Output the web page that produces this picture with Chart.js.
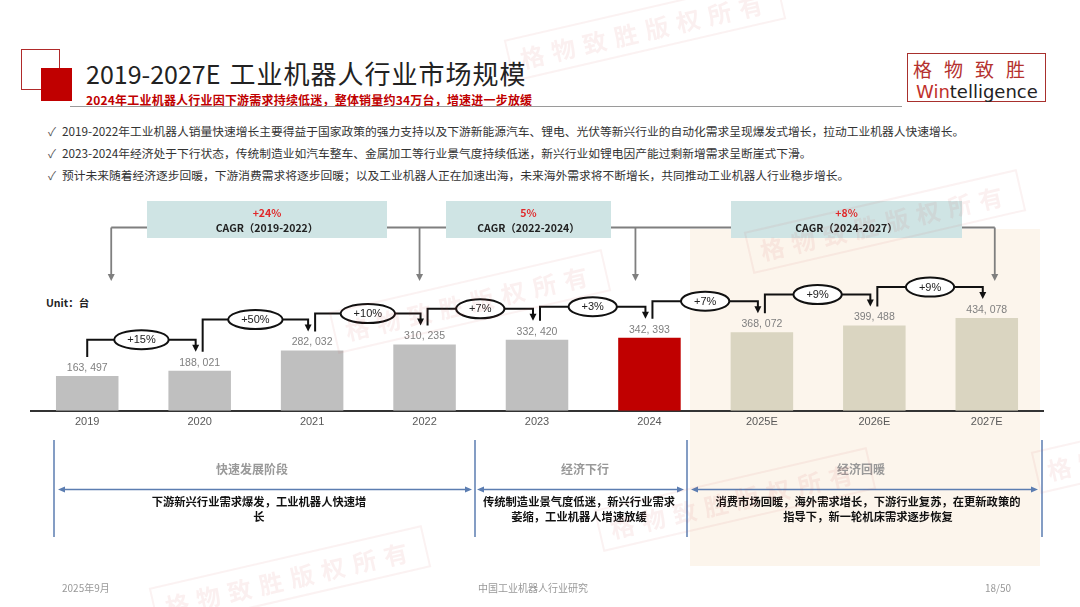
<!DOCTYPE html>
<html>
<head>
<meta charset="utf-8">
<script src="https://cdn.jsdelivr.net/npm/chart.js@4.4.1/dist/chart.umd.min.js"></script>
<style>
  body { margin: 0; width: 1080px; height: 607px; overflow: hidden; background: #fff; position: relative;
         font-family: "Noto Sans CJK SC", "Noto Sans", sans-serif; }
  .abs { position: absolute; white-space: nowrap; }
  .title { left: 86px; top: 60px; font-size: 25px; line-height: 26px; color: #222; }
  .title .cn { font-size: 26px; letter-spacing: 1px; margin-left: 9px; }
  .sub { left: 86px; top: 92px; font-size: 12px; line-height: 15px; color: #c00000; font-weight: bold; letter-spacing: 0.2px; }
  .bul { left: 48px; font-size: 11.75px; line-height: 16px; color: #333; }
  .bul span { display: inline-block; width: 14px; color: #555; }
  .phase-t { font-size: 12px; line-height: 16px; color: #999; font-weight: bold; text-align: center; }
  .phase-d { font-size: 11.3px; line-height: 15px; color: #111; font-weight: bold; text-align: center; }
  .foot { top: 581px; font-size: 10px; line-height: 14px; color: #999; }
  .wm { position: absolute; border: 2px solid rgba(200, 70, 70, 0.07); color: rgba(200, 70, 70, 0.08);
        font-size: 24px; font-weight: bold; letter-spacing: 8px; padding: 2px 10px; transform: rotate(-13deg);
        white-space: nowrap; z-index: 5; }
</style>
</head>
<body>
<div id="peach" class="abs" style="left:690px; top:229px; width:350px; height:337px; background:#fcf5ec;"></div>

<!-- header -->
<div class="abs" style="left:21px; top:49px; width:37px; height:39px; border:1.5px solid #b02a2a;"></div>
<div class="abs" style="left:41px; top:68px; width:31px; height:33px; background:#c00000;"></div>
<div class="abs title">2019-2027E<span class="cn">工业机器人行业市场规模</span></div>
<div class="abs sub">2024年工业机器人行业因下游需求持续低迷，整体销量约34万台，增速进一步放缓</div>
<div class="abs" style="left:70px; top:106px; width:832px; height:1px; background:#9a9a9a;"></div>

<div class="abs" style="left:907px; top:53px; width:139px; height:49px; box-sizing:border-box; border:1.5px solid #a8302d;"></div>
<div class="abs" style="left:913px; top:56px; font-size:19px; line-height:26px; color:#b5322f; letter-spacing:12px;">格物致胜</div>
<div class="abs" style="left:916px; top:81px; font-family:'DejaVu Sans'; font-size:18px; line-height:22px; color:#222;"><span style="color:#c0302b">Win</span>telligence</div>

<div class="abs bul" style="top:123px;"><span>✓</span>2019-2022年工业机器人销量快速增长主要得益于国家政策的强力支持以及下游新能源汽车、锂电、光伏等新兴行业的自动化需求呈现爆发式增长，拉动工业机器人快速增长。</div>
<div class="abs bul" style="top:145px;"><span>✓</span>2023-2024年经济处于下行状态，传统制造业如汽车整车、金属加工等行业景气度持续低迷，新兴行业如锂电因产能过剩新增需求呈断崖式下滑。</div>
<div class="abs bul" style="top:167px;"><span>✓</span>预计未来随着经济逐步回暖，下游消费需求将逐步回暖；以及工业机器人正在加速出海，未来海外需求将不断增长，共同推动工业机器人行业稳步增长。</div>

<div class="abs" style="left:46px; top:295px; font-size:10.5px; line-height:16px; font-weight:bold; color:#222;">Unit：台</div>

<!-- chart -->
<div class="abs" style="left:0; top:185px; width:1080px; height:260px;">
  <canvas id="c" width="1080" height="260"></canvas>
</div>

<!-- phases -->
<svg class="abs" style="left:0; top:0;" width="1080" height="607">
  <g stroke="#5b7db1" stroke-width="1.5" fill="none">
    <line x1="54" y1="440" x2="54" y2="537"/>
    <line x1="475" y1="440" x2="475" y2="537"/>
    <line x1="687" y1="440" x2="687" y2="537"/>
    <line x1="1042" y1="440" x2="1042" y2="537"/>
    <line x1="62" y1="489.5" x2="468" y2="489.5"/>
    <line x1="480" y1="489.5" x2="681" y2="489.5"/>
    <line x1="694" y1="489.5" x2="1035" y2="489.5"/>
  </g>
  <g fill="#5b7db1">
    <polygon points="58,489.5 65,486.5 65,492.5"/>
    <polygon points="472,489.5 465,486.5 465,492.5"/>
    <polygon points="477,489.5 484,486.5 484,492.5"/>
    <polygon points="684,489.5 677,486.5 677,492.5"/>
    <polygon points="691,489.5 698,486.5 698,492.5"/>
    <polygon points="1038,489.5 1031,486.5 1031,492.5"/>
  </g>
</svg>
<div class="abs phase-t" style="left:152px; width:200px; top:461px;">快速发展阶段</div>
<div class="abs phase-t" style="left:485px; width:200px; top:461px;">经济下行</div>
<div class="abs phase-t" style="left:761px; width:200px; top:461px;">经济回暖</div>
<div class="abs phase-d" style="left:129px; width:260px; top:494px;">下游新兴行业需求爆发，工业机器人快速增<br>长</div>
<div class="abs phase-d" style="left:459px; width:240px; top:494px;">传统制造业景气度低迷，新兴行业需求<br>萎缩，工业机器人增速放缓</div>
<div class="abs phase-d" style="left:698px; width:340px; top:494px;">消费市场回暖，海外需求增长，下游行业复苏，在更新政策的<br>指导下，新一轮机床需求逐步恢复</div>

<div class="abs foot" style="left:62px;">2025年9月</div>
<div class="abs foot" style="left:478px;">中国工业机器人行业研究</div>
<div class="abs foot" style="left:985px;">18/50</div>

<!-- watermarks -->
<div class="wm" style="left:505px; top:8px;">格物致胜版权所有</div>
<div class="wm" style="left:330px; top:280px;">格物致胜版权所有</div>
<div class="wm" style="left:745px; top:200px;">格物致胜版权所有</div>
<div class="wm" style="left:595px; top:478px;">格物致胜版权所有</div>
<div class="wm" style="left:150px; top:556px;">格物致胜版权所有</div>
<div class="wm" style="left:1032px; top:420px;">格物致胜版权所有</div>

<script>
const years = ['2019', '2020', '2021', '2022', '2023', '2024', '2025E', '2026E', '2027E'];
const sales = [163497, 188021, 282032, 310235, 332420, 342393, 368072, 399488, 434078];
const growthLabels = ['+15%', '+50%', '+10%', '+7%', '+3%', '+7%', '+9%', '+9%'];
const cagrValues = ['+24%', '5%', '+8%'];
const cagrPeriods = ['CAGR（2019-2022）', 'CAGR（2022-2024）', 'CAGR（2024-2027）'];

// canvas top sits at page y=185
const TOP = 185;
const cagrBoxes = [{ l: 147, r: 387 }, { l: 446, r: 611 }, { l: 731, r: 962 }];

function fmt(v) {
    return v.toLocaleString('en-US').replace(',', ', ');
}

function arrowDown(ctx, x, tipY, w, h) {
    ctx.beginPath();
    ctx.moveTo(x - w / 2, tipY - h);
    ctx.lineTo(x + w / 2, tipY - h);
    ctx.lineTo(x, tipY);
    ctx.closePath();
    ctx.fill();
}

const annotations = {
    id: 'annotations',
    afterDatasetsDraw(chart) {
        const { ctx, scales: { x, y } } = chart;
        const meta = chart.getDatasetMeta(0);
        ctx.save();

        // value labels
        ctx.font = '10.5px "Liberation Sans"';
        ctx.fillStyle = '#7f7f7f';
        ctx.textAlign = 'center';
        ctx.textBaseline = 'middle';
        meta.data.forEach((bar, i) => ctx.fillText(fmt(sales[i]), bar.x, bar.y - 8));

        // year-on-year connectors
        growthLabels.forEach((g, i) => {
            const x0 = x.getPixelForValue(i) + (i === 0 ? 0 : 3);
            const x1 = x.getPixelForValue(i + 1) - 4;
            const t0 = y.getPixelForValue(sales[i]) - 19;
            const t1 = y.getPixelForValue(sales[i + 1]) - 19;
            const h = Math.min(t0, t1) - 12;
            ctx.strokeStyle = '#111';
            ctx.fillStyle = '#111';
            ctx.lineWidth = 2;
            ctx.beginPath();
            ctx.moveTo(x0, t0);
            ctx.lineTo(x0, h);
            ctx.lineTo(x1, h);
            ctx.lineTo(x1, t1 - 5);
            ctx.stroke();
            arrowDown(ctx, x1, t1, 7, 7);

            ctx.font = '11px "Liberation Sans"';
            const tw = ctx.measureText(g).width;
            const cx = (x0 + x1) / 2;
            ctx.beginPath();
            ctx.ellipse(cx, h, tw / 2 + 13, 9.5, 0, 0, Math.PI * 2);
            ctx.fillStyle = '#fff';
            ctx.fill();
            ctx.stroke();
            ctx.fillStyle = '#222';
            ctx.fillText(g, cx, h + 0.5);
        });

        // CAGR boxes and their pointers
        const lineY = 227.5 - TOP;
        const tipY = 281 - TOP;
        const drops = [
            { from: 147, to: x.getPixelForValue(0) + 24 },
            { from: 387, to: 446, at: x.getPixelForValue(3) - 5 },
            { from: 611, to: 731, at: x.getPixelForValue(5) - 14 },
            { from: 962, to: x.getPixelForValue(8) + 8 }
        ];
        ctx.strokeStyle = '#7f7f7f';
        ctx.fillStyle = '#7f7f7f';
        ctx.lineWidth = 1.8;
        drops.forEach(d => {
            const dx = d.at !== undefined ? d.at : d.to;
            ctx.beginPath();
            ctx.moveTo(d.from, lineY);
            ctx.lineTo(d.to, lineY);
            ctx.moveTo(dx, lineY);
            ctx.lineTo(dx, tipY - 6);
            ctx.stroke();
            arrowDown(ctx, dx, tipY, 7, 7);
        });

        cagrBoxes.forEach((b, i) => {
            ctx.fillStyle = '#cfe4e4';
            ctx.fillRect(b.l, 201 - TOP, b.r - b.l, 37);
            const cx = (b.l + b.r) / 2;
            ctx.font = 'bold 10.5px "Noto Sans CJK SC"';
            ctx.fillStyle = '#e0282a';
            ctx.fillText(cagrValues[i], cx, 213.5 - TOP);
            ctx.fillStyle = '#222';
            ctx.fillText(cagrPeriods[i], cx, 228 - TOP);
        });

        ctx.restore();
    }
};

new Chart(document.getElementById('c'), {
    type: 'bar',
    data: {
        labels: years,
        datasets: [{
            data: sales,
            backgroundColor: ctx => {
                const label = years[ctx.dataIndex];
                if (label === '2024') return '#c00000';
                if (label.endsWith('E')) return '#dad5c1';
                return '#bfbfbf';
            },
            borderWidth: 0,
            barPercentage: 0.556,
            categoryPercentage: 1
        }]
    },
    options: {
        responsive: false,
        animation: false,
        layout: { padding: { left: 31, right: 37, top: 40, bottom: 11 } },
        plugins: { legend: { display: false }, tooltip: { enabled: false } },
        scales: {
            x: {
                grid: { display: false, drawTicks: false },
                border: { display: true, color: '#333', width: 2 },
                ticks: { color: '#595959', padding: 5, font: { size: 11, family: 'Liberation Sans' } }
            },
            y: { display: false, min: 0, max: 870000 }
        }
    },
    plugins: [annotations]
});
</script>
</body>
</html>
